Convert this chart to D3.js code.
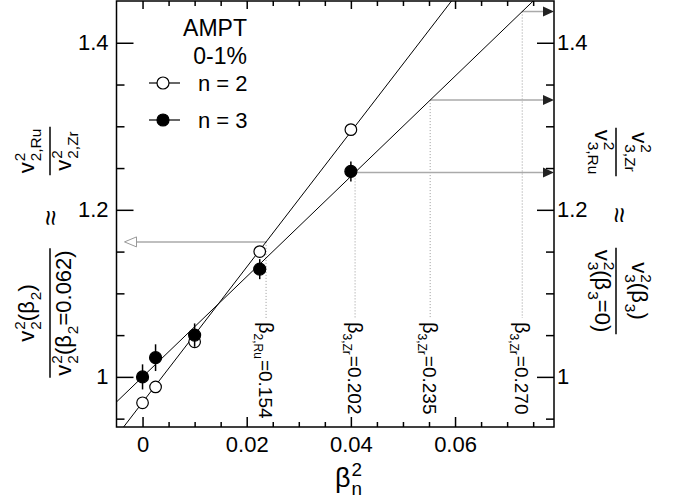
<!DOCTYPE html>
<html>
<head>
<meta charset="utf-8">
<script src="https://cdn.jsdelivr.net/npm/d3@7"></script>
<style>
  body { margin: 0; background: #fff; }
  svg { display: block; font-family: "Liberation Sans", Arial, Helvetica, sans-serif; }
</style>
</head>
<body>
<svg id="chart" width="673" height="503"></svg>
<script>
// beta_n^2 of the AMPT points
const betaSq = [0, 0.0025, 0.01, 0.0225, 0.04];
// n = 2 ratio and errors
const n2Vals = [0.969, 0.988, 1.042, 1.150, 1.296];
const n2Errs = [0.004, 0.004, 0.007, 0.006, 0.006];
// n = 3 ratio and errors
const n3Vals = [1.000, 1.023, 1.050, 1.129, 1.246];
const n3Errs = [0.015, 0.016, 0.014, 0.012, 0.012];
// linear fits [intercept, slope]
const n2Fit = [0.9695, 8.1];
const n3Fit = [1.0, 6.0];
// beta values marked with arrows
const markNames = ["2,Ru", "3,Zr", "3,Zr", "3,Zr"];
const markBetas = ["0.154", "0.202", "0.235", "0.270"];
const markOrder = [2, 3, 3, 3];
// tick values
const xMajor = [0, 0.02, 0.04, 0.06];
const yMajor = [1, 1.2, 1.4];

const svg = d3.select("#chart");
const pLeft = 116.5, pRight = 554, pTop = 1, pBottom = 427;

const x = d3.scaleLinear().domain([-0.005, 0.079]).range([pLeft, pRight]);
const y = d3.scaleLinear().domain([0.94, 1.45]).range([pBottom, pTop]);

const xMinor = d3.range(1, 16).filter(i => i % 4 !== 0).map(i => i * 0.005);
const yMinor = d3.range(0, 10).map(i => 0.95 + i * 0.05)
  .filter(v => Math.round(v * 100) % 20 !== 0);

// text with stacked super/subscripts, returns width
function rich(g, parts, size) {
  const small = size * 0.7;
  let pos = 0;
  parts.forEach(p => {
    if (typeof p === "string") {
      const t = g.append("text").attr("x", pos).attr("font-size", size).text(p);
      pos += t.node().getComputedTextLength();
    } else {
      let w = 0;
      if (p.sup) {
        const t = g.append("text").attr("x", pos + 1).attr("y", -size * 0.42)
          .attr("font-size", small).text(p.sup);
        w = Math.max(w, t.node().getComputedTextLength() + 1);
      }
      if (p.sub) {
        const t = g.append("text").attr("x", pos + 1).attr("y", size * 0.3)
          .attr("font-size", small).text(p.sub);
        w = Math.max(w, t.node().getComputedTextLength() + 1);
      }
      pos += w;
    }
  });
  return pos;
}

function fraction(cx, cy, angle, num, den, size, numY, denY) {
  const g = svg.append("g").attr("transform", `translate(${cx},${cy}) rotate(${angle})`);
  const gn = g.append("g");
  const wn = rich(gn, num, size);
  gn.attr("transform", `translate(${-wn / 2},${numY})`);
  const gd = g.append("g");
  const wd = rich(gd, den, size);
  gd.attr("transform", `translate(${-wd / 2},${denY})`);
  const w = Math.max(wn, wd) + 4;
  g.append("line").attr("x1", -w / 2).attr("x2", w / 2)
    .attr("stroke", "#000").attr("stroke-width", 1.5);
}

function approx(cx, cy, angle) {
  svg.append("text")
    .attr("transform", `translate(${cx},${cy}) rotate(${angle})`)
    .attr("text-anchor", "middle").attr("dy", "0.35em")
    .attr("font-size", 28).text("\u2248");
}

// axes (ticks inside the frame)
function styleAxis(g) {
  g.select(".domain").remove();
  g.selectAll("line").attr("stroke", "#000").attr("stroke-width", 1.5);
  g.selectAll("text").attr("fill", "#000").attr("font-family", null);
}

svg.append("g").attr("transform", `translate(0,${pBottom})`)
  .call(d3.axisBottom(x).tickValues(xMajor).tickSize(-10).tickPadding(9)
    .tickFormat(d3.format("")))
  .call(styleAxis).selectAll("text").attr("font-size", 22);
svg.append("g").attr("transform", `translate(0,${pBottom})`)
  .call(d3.axisBottom(x).tickValues(xMinor).tickSize(-5).tickFormat(""))
  .call(styleAxis);
svg.append("g").attr("transform", `translate(0,${pTop})`)
  .call(d3.axisTop(x).tickValues(xMajor).tickSize(-8).tickFormat(""))
  .call(styleAxis);
svg.append("g").attr("transform", `translate(0,${pTop})`)
  .call(d3.axisTop(x).tickValues(xMinor).tickSize(-5).tickFormat(""))
  .call(styleAxis);

svg.append("g").attr("transform", `translate(${pLeft},0)`)
  .call(d3.axisLeft(y).tickValues(yMajor).tickSize(-17).tickPadding(8)
    .tickFormat(d3.format("")))
  .call(styleAxis).selectAll("text").attr("font-size", 22);
svg.append("g").attr("transform", `translate(${pLeft},0)`)
  .call(d3.axisLeft(y).tickValues(yMinor).tickSize(-8).tickFormat(""))
  .call(styleAxis);
svg.append("g").attr("transform", `translate(${pRight},0)`)
  .call(d3.axisRight(y).tickValues(yMajor).tickSize(-17).tickPadding(3)
    .tickFormat(d3.format("")))
  .call(styleAxis).selectAll("text").attr("font-size", 22);
svg.append("g").attr("transform", `translate(${pRight},0)`)
  .call(d3.axisRight(y).tickValues(yMinor).tickSize(-8).tickFormat(""))
  .call(styleAxis);

svg.append("rect").attr("x", pLeft).attr("y", pTop)
  .attr("width", pRight - pLeft).attr("height", pBottom - pTop)
  .attr("fill", "none").attr("stroke", "#000").attr("stroke-width", 1.5);

svg.append("clipPath").attr("id", "plot-clip")
  .append("rect").attr("x", pLeft).attr("y", pTop)
  .attr("width", pRight - pLeft).attr("height", pBottom - pTop);

// arrows and dotted guides
const marks = markBetas.map((b, i) => {
  const fit = markOrder[i] === 2 ? n2Fit : n3Fit;
  const bsq = (+b) * (+b);
  return { name: markNames[i], beta: b, n: markOrder[i], bsq: bsq, val: fit[0] + fit[1] * bsq };
});

const guides = svg.append("g").attr("class", "guides");
guides.selectAll("line.dot").data(marks).enter().append("line")
  .attr("class", "dot")
  .attr("x1", d => x(d.bsq)).attr("x2", d => x(d.bsq))
  .attr("y1", d => y(d.val)).attr("y2", 318)
  .attr("stroke", "#999").attr("stroke-width", 1).attr("stroke-dasharray", "1,2");

guides.selectAll("line.arrow").data(marks).enter().append("line")
  .attr("class", "arrow")
  .attr("x1", d => x(d.bsq))
  .attr("x2", d => d.n === 2 ? pLeft + 20 : pRight - 10)
  .attr("y1", d => y(d.val)).attr("y2", d => y(d.val))
  .attr("stroke", "#aaa").attr("stroke-width", 1.5);

guides.selectAll("path.head").data(marks).enter().append("path")
  .attr("class", "head")
  .attr("d", d => {
    const yy = y(d.val);
    if (d.n === 2) {
      const tip = pLeft + 8;
      return `M${tip},${yy}L${tip + 12},${yy - 5}L${tip + 12},${yy + 5}Z`;
    }
    return `M${pRight},${yy}L${pRight - 11},${yy - 5}L${pRight - 11},${yy + 5}Z`;
  })
  .attr("fill", d => d.n === 2 ? "#fff" : "#222")
  .attr("stroke", d => d.n === 2 ? "#999" : "none")
  .attr("stroke-width", 1);

// rotated beta labels
marks.forEach(d => {
  const g = svg.append("g")
    .attr("transform", `translate(${x(d.bsq)},322) rotate(90) translate(0,7)`);
  g.append("text").attr("font-size", 20).text("β");
  const bw = g.select("text").node().getComputedTextLength();
  const s = g.append("text").attr("x", bw).attr("y", 5).attr("font-size", 12).text(d.name);
  const sw = s.node().getComputedTextLength();
  g.append("text").attr("x", bw + sw + 1).attr("font-size", 19).text("=" + d.beta);
});

// fit lines
const fits = svg.append("g").attr("clip-path", "url(#plot-clip)");
[n2Fit, n3Fit].forEach(f => {
  const xs = x.domain();
  fits.append("line")
    .attr("x1", x(xs[0])).attr("y1", y(f[0] + f[1] * xs[0]))
    .attr("x2", x(xs[1])).attr("y2", y(f[0] + f[1] * xs[1]))
    .attr("stroke", "#000").attr("stroke-width", 1);
});

// data points
function drawSeries(vals, errs, filled) {
  const g = svg.append("g");
  g.selectAll("line").data(betaSq).enter().append("line")
    .attr("x1", d => x(d)).attr("x2", d => x(d))
    .attr("y1", (d, i) => y(vals[i] - errs[i]))
    .attr("y2", (d, i) => y(vals[i] + errs[i]))
    .attr("stroke", "#000").attr("stroke-width", 1.5);
  g.selectAll("circle").data(betaSq).enter().append("circle")
    .attr("cx", d => x(d)).attr("cy", (d, i) => y(vals[i]))
    .attr("r", filled ? 6 : 5.8)
    .attr("fill", filled ? "#000" : "#fff")
    .attr("stroke", "#000").attr("stroke-width", 1.2);
}
drawSeries(n2Vals, n2Errs, false);
drawSeries(n3Vals, n3Errs, true);

// legend
svg.append("text").attr("x", 247).attr("y", 36).attr("text-anchor", "end")
  .attr("font-size", 23).text("AMPT");
svg.append("text").attr("x", 247).attr("y", 64).attr("text-anchor", "end")
  .attr("font-size", 23).text("0-1%");
[{ label: "n = 2", filled: false, yy: 83 }, { label: "n = 3", filled: true, yy: 120 }].forEach(e => {
  svg.append("line").attr("x1", 149).attr("x2", 180).attr("y1", e.yy).attr("y2", e.yy)
    .attr("stroke", "#000").attr("stroke-width", 1.2);
  svg.append("circle").attr("cx", 163).attr("cy", e.yy).attr("r", 6)
    .attr("fill", e.filled ? "#000" : "#fff").attr("stroke", "#000").attr("stroke-width", 1.2);
  svg.append("text").attr("x", 198).attr("y", e.yy + 8).attr("font-size", 22).text(e.label);
});

// x title
const xt = svg.append("g").attr("transform", "translate(335,487)");
rich(xt, ["β", { sup: "2", sub: "n" }], 27);

// left title
fraction(50, 313, -90,
  ["v", { sup: "2", sub: "2" }, "(β", { sub: "2" }, ")"],
  ["v", { sup: "2", sub: "2" }, "(β", { sub: "2" }, "=0.062)"], 22, -16, 21);
approx(50, 218, -90);
fraction(50, 151, -90,
  ["v", { sup: "2", sub: "2,Ru" }],
  ["v", { sup: "2", sub: "2,Zr" }], 22, -16, 21);

// right title
fraction(616, 152, 90,
  ["v", { sup: "2", sub: "3,Zr" }],
  ["v", { sup: "2", sub: "3,Ru" }], 22, -16, 21);
approx(620, 215, 90);
fraction(616, 291, 90,
  ["v", { sup: "2", sub: "3" }, "(β", { sub: "3" }, ")"],
  ["v", { sup: "2", sub: "3" }, "(β", { sub: "3" }, "=0)"], 22, -16, 21);
</script>
</body>
</html>
